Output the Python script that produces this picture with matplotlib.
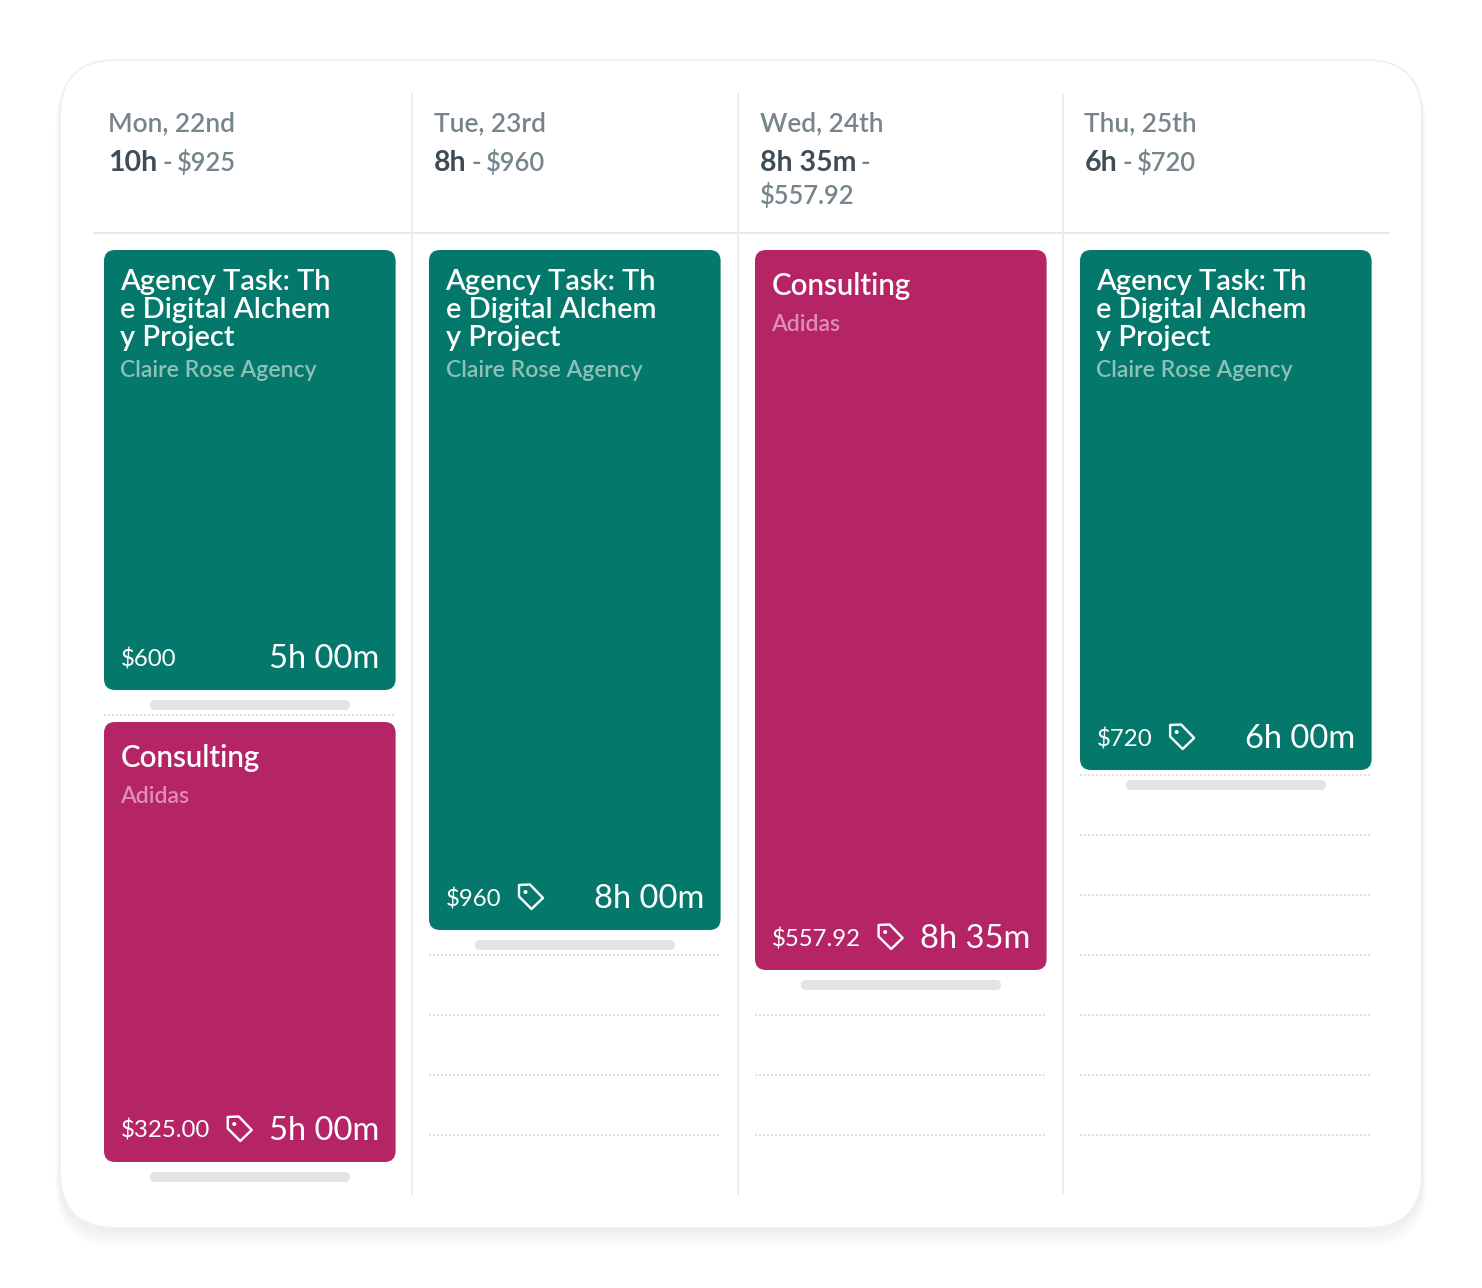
import matplotlib
matplotlib.use('Agg')
import matplotlib.pyplot as plt
from matplotlib.patches import FancyBboxPatch, Polygon, Circle

plt.rcParams['font.family'] = ['Lato', 'DejaVu Sans']

# days
day_labels = ['Mon, 22nd', 'Tue, 23rd', 'Wed, 24th', 'Thu, 25th']
day_hours = ['10h', '8h', '8h 35m', '6h']
day_totals = ['$925', '$960', '$557.92', '$720']
column_lefts = [94, 419, 745, 1070]

# cards, in drawing order
card_day = [0, 0, 1, 2, 3]
card_titles = ['Agency Task: Th\ne Digital Alchem\ny Project', 'Consulting',
               'Agency Task: Th\ne Digital Alchem\ny Project', 'Consulting',
               'Agency Task: Th\ne Digital Alchem\ny Project']
card_clients = ['Claire Rose Agency', 'Adidas', 'Claire Rose Agency', 'Adidas',
                'Claire Rose Agency']
card_amounts = ['$600', '$325.00', '$960', '$557.92', '$720']
card_durations = ['5h 00m', '5h 00m', '8h 00m', '8h 35m', '6h 00m']
card_hours = [5, 5, 8, 8.5, 6]
card_tagged = [False, True, True, True, True]
card_kind = [0, 1, 0, 1, 0]

TEAL = '#04796b'
PINK = '#b52465'
SUB = ['#8fc0b8', '#e08db5']
GREY = '#75858c'
DARK = '#3e4c55'
LINE = '#e8e8e8'
PX = 0.72  # px to points at dpi 100

fig = plt.figure(figsize=(14.82, 12.88), dpi=100)
ax = fig.add_axes([0, 0, 1, 1])
ax.set_xlim(0, 1482)
ax.set_ylim(1288, 0)
ax.axis('off')


def rrect(x, y, w, h, r, **kw):
    p = FancyBboxPatch((x + r, y + r), w - 2 * r, h - 2 * r,
                       boxstyle='round,pad=%f,rounding_size=%f' % (r, r), **kw)
    ax.add_patch(p)
    return p


# soft shadow and panel
for i in range(16, 0, -1):
    rrect(60 - i * 0.3, 64, 1362 + i * 0.6, 1166 + i * 1.2, 56 + i * 0.5,
          fc='black', ec='none', alpha=0.005, zorder=1)
rrect(60, 60, 1362, 1168, 56, fc='white', ec='#f0f0f0', lw=1.4, zorder=2)

# grid lines
ax.plot([94, 1388], [233, 233], color=LINE, lw=2 * PX, zorder=3)
for x in column_lefts[1:]:
    ax.plot([x - 7, x - 7], [94, 1194], color='#ececec', lw=2 * PX, zorder=3)
for i, left in enumerate(column_lefts):
    for y in range(295, 1136, 60):
        ax.plot([left + 10, left + 301], [y, y], color='#e0e0e0', lw=2 * PX,
                ls=(0, (1, 1)), zorder=3)

fig.canvas.draw()
rend = fig.canvas.get_renderer()

# column headers
for i, left in enumerate(column_lefts):
    x = left + 14.5
    ax.text(x, 131, day_labels[i], color=GREY, fontsize=26.3 * PX, weight='semibold', zorder=5)
    t = ax.text(x, 171, day_hours[i], color=DARK, fontsize=28.5 * PX, weight='bold', zorder=5)
    right = ax.transData.inverted().transform(t.get_window_extent(rend))[1][0]
    d = ax.text(right + 5, 171, '-', color=GREY, fontsize=26 * PX, weight='semibold', zorder=5)
    right = ax.transData.inverted().transform(d.get_window_extent(rend))[1][0]
    if i == 2:
        ax.text(x, 204, day_totals[i], color=GREY, fontsize=25.5 * PX, weight='semibold', zorder=5)
    else:
        ax.text(right + 5, 171, day_totals[i], color=GREY, fontsize=25.5 * PX, weight='semibold', zorder=5)

# task cards
tops = {}
for i in range(len(card_titles)):
    day = card_day[i]
    left = column_lefts[day] + 10
    top = tops.get(day, 250)
    height = card_hours[i] * 80 + 40
    bottom = top + height
    tops[day] = bottom + 32
    colour = [TEAL, PINK][card_kind[i]]
    rrect(left, top, 291.6, height, 11, fc=colour, ec='none', zorder=4)
    rrect(left + 46, bottom + 10, 200, 10, 5, fc='#e4e4e4', ec='none', zorder=4)

    lines = card_titles[i].split('\n')
    tx = left + 16.5
    if len(lines) > 1:
        base = top + 40
        for k, line in enumerate(lines):
            ax.text(tx, base + k * 28, line, color='white', fontsize=29 * PX,
                    weight='semibold', zorder=5)
        sub_y = top + 127
    else:
        ax.text(tx, top + 45, lines[0], color='white', fontsize=29.5 * PX,
                weight='semibold', zorder=5)
        sub_y = top + 81
    ax.text(tx, sub_y, card_clients[i], color=SUB[card_kind[i]], fontsize=23 * PX,
            weight='semibold', zorder=5)

    a = ax.text(tx, bottom - 24, card_amounts[i], color='white', fontsize=24 * PX, zorder=5)
    ax.text(left + 275.5, bottom - 22, card_durations[i], color='white', fontsize=32.7 * PX,
            ha='right', zorder=5)
    if card_tagged[i]:
        ix = ax.transData.inverted().transform(a.get_window_extent(rend))[1][0] + 17
        iy = bottom - 46
        # price tag icon
        shape = [(1, 1), (12, 0.5), (25, 14), (13.5, 25), (1, 12.5)]
        ax.add_patch(Polygon([(ix + sx, iy + sy) for sx, sy in shape], closed=True, fc='none',
                             ec='white', lw=2.4 * PX, joinstyle='round', zorder=5))
        ax.add_patch(Circle((ix + 7.5, iy + 8), 2, fc='white', ec='none', zorder=5))

fig.savefig('out.png', dpi=100)
